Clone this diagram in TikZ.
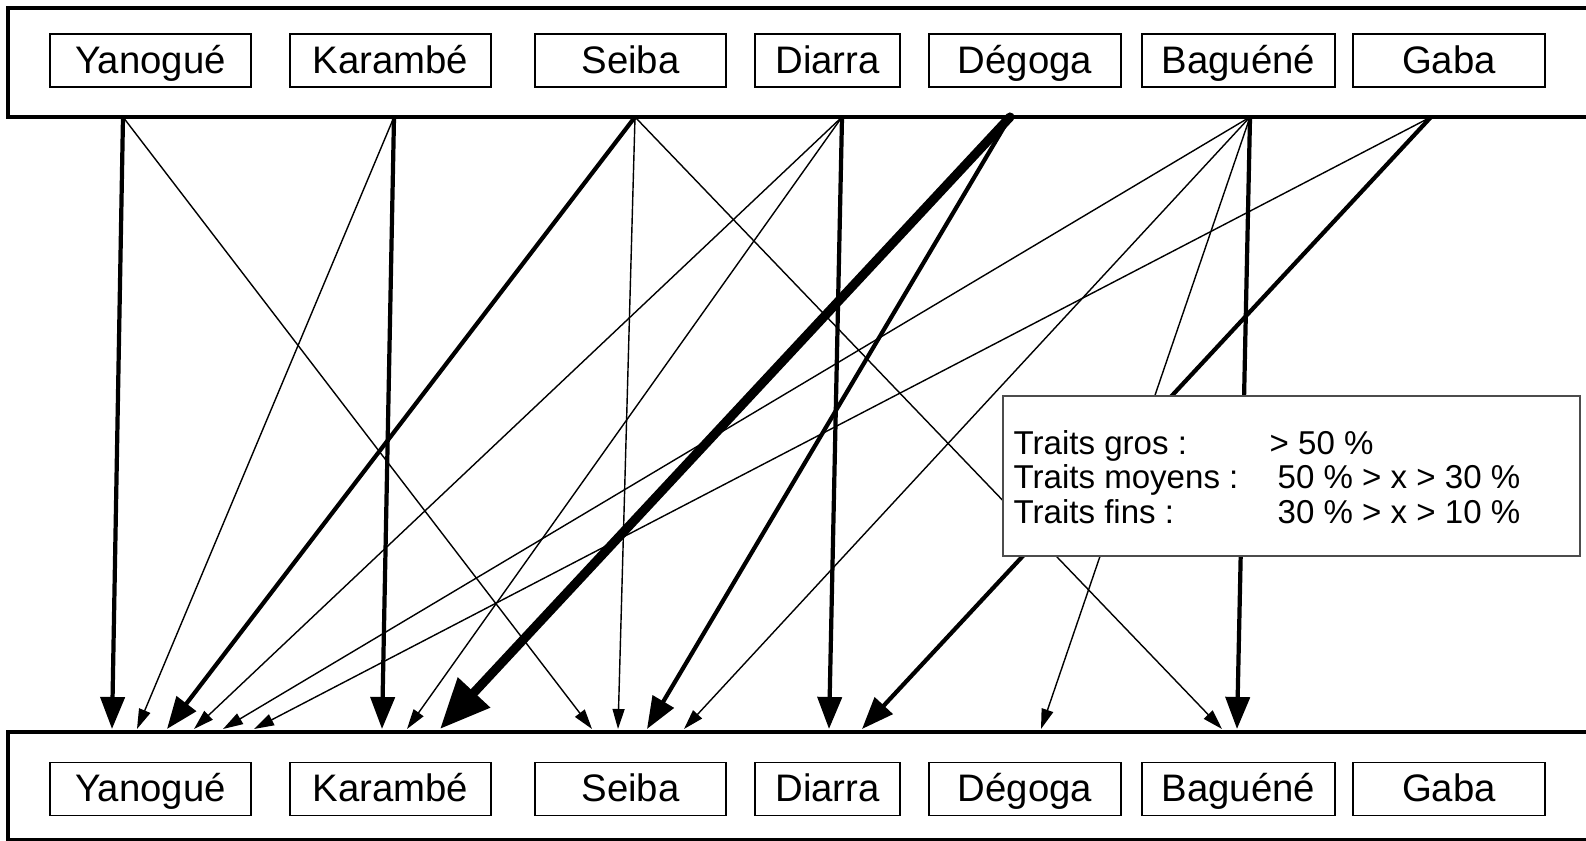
\documentclass[tikz,border=0pt]{standalone}
\usepackage{fontspec}
\setmainfont{Liberation Sans}
\usetikzlibrary{arrows.meta}

\tikzset{
    nom/.style={draw, line width=0.5pt, minimum height=0.53cm, inner sep=0pt,
        text height=0.72em, text depth=0pt, font=\fontsize{10.9}{13}\selectfont},
    barre/.style={line width=0.9pt},
    fin/.style={line width=0.4pt, -{Triangle[length=0.2cm,width=0.12cm]}},
    moyen/.style={line width=1.2pt, -{Triangle[length=0.32cm,width=0.24cm]}},
    gros/.style={line width=2.6pt, line cap=round, -{Triangle[length=0.5cm,width=0.42cm]}},
    legende/.style={anchor=base west, inner sep=0pt, font=\fontsize{9.4}{11}\selectfont}
}

\begin{document}
\begin{tikzpicture}[x=0.01cm, y=-0.01cm]
            \useasboundingbox (0,0) rectangle (1586,840);
            % les deux barres, ouvertes a droite
            \draw[barre] (1586,8) -- (8,8) -- (8,117) -- (1586,117);
            \draw[barre] (1586,732) -- (8,732) -- (8,840) -- (1586,840);
            % les noms, en haut et en bas
            \foreach \n/\x/\w/\t in {yan/150.5/2.01/Yanogué, kar/390.5/2.01/Karambé,
                    sei/630.5/1.91/Seiba, dia/827.5/1.45/Diarra, deg/1025/1.92/Dégoga,
                    bag/1238.5/1.93/Baguéné, gab/1449/1.92/Gaba} {
                \node[nom, minimum width=\w cm] (h-\n) at (\x,60.5) {\t};
                \node[nom, minimum width=\w cm] (b-\n) at (\x,789) {\t};
            }
            % departs
            \foreach \n/\x in {yan/123, kar/394, sei/635, dia/842, deg/1010, bag/1250, gab/1431}
                \coordinate (s-\n) at (\x,117);
            % fleches
            \foreach \a/\b/\x/\s in {yan/yan/112/moyen, kar/yan/137/fin, sei/yan/167/moyen,
                    dia/yan/194/fin, bag/yan/223/fin, gab/yan/254/fin,
                    kar/kar/382/moyen, dia/kar/407/fin, deg/kar/440/gros,
                    yan/sei/592/fin, sei/sei/618/fin, deg/sei/647/moyen, bag/sei/684/fin,
                    dia/dia/829/moyen, gab/dia/862/moyen, bag/deg/1041/fin,
                    sei/bag/1222/fin, bag/bag/1237/moyen} {
                \coordinate (e-\a-\b) at (\x,729);
                \draw[\s] (s-\a) -- (e-\a-\b);
            }
            % legende
            \node[draw = gray!60!black, line width=0.5pt, fill = white,
                minimum width=5.77cm, minimum height=1.6cm, inner sep=0pt]
                (leg) at (1291.5,476) {};
            \node[legende] (leg-g) at (1013,454) {Traits gros :};
            \node[legende] (leg-m) at (1013,488) {Traits moyens :};
            \node[legende] (leg-f) at (1013,523) {Traits fins :};
            \node[legende] (val-g) at (1269,454) {> 50 \%};
            \node[legende] (val-m) at (1277,488) {50 \% > x > 30 \%};
            \node[legende] (val-f) at (1277,523) {30 \% > x > 10 \%};
        \end{tikzpicture}
\end{document}
